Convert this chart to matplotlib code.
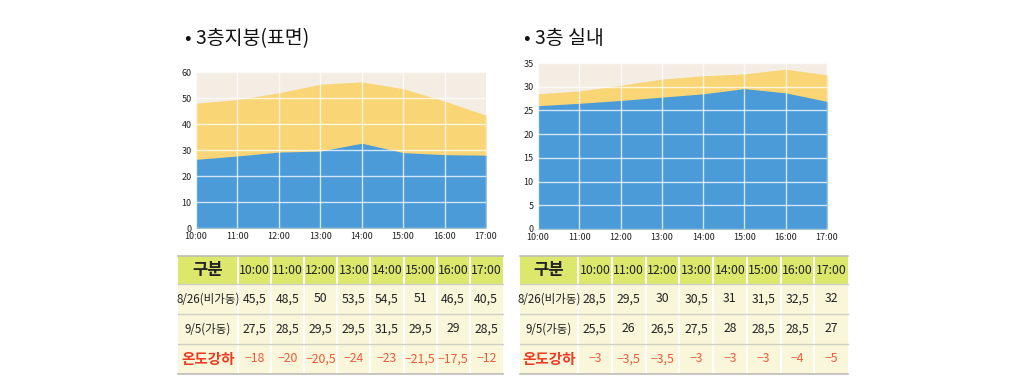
import numpy as np
import matplotlib.pyplot as plt
from matplotlib.patches import Rectangle

plt.rcParams['font.family'] = ['Noto Sans CJK KR', 'DejaVu Sans']

hours = ['10:00', '11:00', '12:00', '13:00', '14:00', '15:00', '16:00', '17:00']

# values shown in the charts
roof_before_chart = [48, 49.4, 52, 55.3, 56.2, 53.6, 48.8, 43.4]
roof_after_chart = [26.4, 27.7, 29.2, 29.6, 32.6, 29, 28.2, 28]
room_before_chart = [28.5, 29.1, 30.3, 31.6, 32.3, 32.7, 33.7, 32.5]
room_after_chart = [26, 26.5, 27.1, 27.8, 28.5, 29.6, 28.7, 26.9]

# table values
roof_before = ['45.5', '48.5', '50', '53.5', '54.5', '51', '46.5', '40.5']
roof_after = ['27.5', '28.5', '29.5', '29.5', '31.5', '29.5', '29', '28.5']
roof_drop = ['−18', '−20', '−20.5', '−24', '−23', '−21.5', '−17.5', '−12']
room_before = ['28.5', '29.5', '30', '30.5', '31', '31.5', '32.5', '32']
room_after = ['25.5', '26', '26.5', '27.5', '28', '28.5', '28.5', '27']
room_drop = ['−3', '−3.5', '−3.5', '−3', '−3', '−3', '−4', '−5']

row_names = ['8/26(비가동)', '9/5(가동)', '온도강하']

W, H = 1024, 390
BG = '#f3ede3'
YELLOW = '#f9d576'
BLUE = '#4a9bd8'
HEAD = '#dce86c'
CELL = '#f9f6da'
LINE = '#cfcfc4'

fig = plt.figure(figsize=(W / 100, H / 100), dpi=100)


def draw_chart(box, before, after, ymax, ystep):
    x0, y0, x1, y1 = box
    ax = fig.add_axes([x0 / W, 1 - y1 / H, (x1 - x0) / W, (y1 - y0) / H])
    x = np.arange(len(hours))
    ax.set_facecolor(BG)
    ax.fill_between(x, 0, before, color=YELLOW, lw=0, zorder=1)
    ax.fill_between(x, 0, after, color=BLUE, lw=0, zorder=2)
    ax.set_xlim(0, len(hours) - 1)
    ax.set_ylim(0, ymax)
    ax.set_xticks(x)
    ax.set_xticklabels(hours)
    ax.set_yticks(np.arange(0, ymax + 1, ystep))
    ax.grid(True, color='white', lw=1.0, alpha=0.75, zorder=3)
    ax.set_axisbelow(False)
    for s in ax.spines.values():
        s.set_visible(False)
    ax.tick_params(length=0, labelsize=6.5, pad=3, colors='#222222')
    return ax


draw_chart((196, 72, 486, 228), roof_before_chart, roof_after_chart, 60, 10)
draw_chart((538, 63, 827, 229), room_before_chart, room_after_chart, 35, 5)

fig.text(185 / W, 1 - 39 / H, '• 3층지붕(표면)', fontsize=14, va='center', color='#111111')
fig.text(524 / W, 1 - 38 / H, '• 3층 실내', fontsize=14, va='center', color='#111111')

ov = fig.add_axes([0, 0, 1, 1])
ov.set_xlim(0, W)
ov.set_ylim(H, 0)
ov.axis('off')


def draw_table(x0, first_w, col_w, rows):
    ys = [256, 284, 314, 344, 374]
    x_edges = [x0, x0 + first_w] + [x0 + first_w + col_w * (i + 1) for i in range(len(hours))]
    x_end = x_edges[-1]
    ov.add_patch(Rectangle((x0, ys[0]), x_end - x0, ys[1] - ys[0], color=HEAD, lw=0))
    ov.add_patch(Rectangle((x0, ys[1]), x_end - x0, ys[-1] - ys[1], color=CELL, lw=0))
    for xe in x_edges[1:-1]:
        ov.plot([xe, xe], [ys[0], ys[-1]], color='white', lw=1.5)
    for ye in ys[1:-1]:
        ov.plot([x0, x_end], [ye, ye], color=LINE, lw=1)
    ov.plot([x0, x_end], [ys[0], ys[0]], color='#bdbdb5', lw=1.2)
    ov.plot([x0, x_end], [ys[-1], ys[-1]], color='#bdbdb5', lw=1.2)

    def cx(i):
        return (x_edges[i] + x_edges[i + 1]) / 2

    hy = (ys[0] + ys[1]) / 2
    ov.text(cx(0), hy, '구분', ha='center', va='center', fontsize=12, fontweight='bold', color='#222222')
    for j, h in enumerate(hours):
        ov.text(cx(j + 1), hy, h, ha='center', va='center', fontsize=8.8, color='#222222')
    for r, vals in enumerate(rows):
        yc = (ys[r + 1] + ys[r + 2]) / 2
        red = r == 2
        ov.text(cx(0), yc, row_names[r], ha='center', va='center',
                fontsize=10.5 if red else 8.3, fontweight='bold' if red else 'normal',
                color='#ee3b24' if red else '#222222')
        for j, v in enumerate(vals):
            ov.text(cx(j + 1), yc, v.replace('.', ','), ha='center', va='center', fontsize=8.8,
                    color='#f05a3a' if red else '#222222')


draw_table(178, 60, 33.1, [roof_before, roof_after, roof_drop])
draw_table(520, 58, 33.75, [room_before, room_after, room_drop])

fig.savefig('out.png', dpi=100, facecolor='white')
